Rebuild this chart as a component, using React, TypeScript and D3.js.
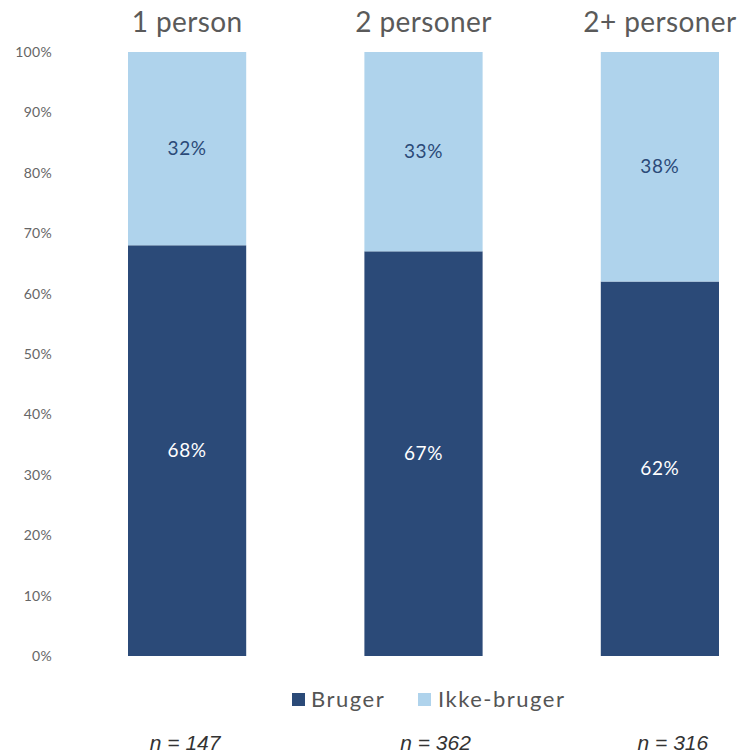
import React from "react";
import * as d3 from "d3";

const categories = ["1 person", "2 personer", "2+ personer"];
const brugerValues = [68, 67, 62];
const ikkeBrugerValues = [32, 33, 38];
const nLabels = ["n = 147", "n = 362", "n = 316"];
const yTicks = [0, 10, 20, 30, 40, 50, 60, 70, 80, 90, 100];
const seriesNames = ["Bruger", "Ikke-bruger"];

const W = 740;
const H = 753;
const DARK = "#2b4a78";
const LIGHT = "#afd3ec";

export default function App() {
  const x = d3.scaleBand<string>().domain(categories).range([128, 719]).paddingInner(0.5).paddingOuter(0);
  const y = d3.scaleLinear().domain([0, 100]).range([656, 52]);
  const nOffsets = [-2, 12, 13];

  return (
    <svg width={W} height={H} style={{ position: "absolute", left: 0, top: 0, background: "#fff" }}>
      {yTicks.map((t) => (
        <text key={t} x={52} y={y(t)} dy="0.35em" textAnchor="end" fontFamily="Lato, sans-serif" fontSize={14} letterSpacing={0.3} fill="#666">
          {t}%
        </text>
      ))}
      {categories.map((c, i) => {
        const x0 = x(c)!;
        const bw = x.bandwidth();
        const b = brugerValues[i];
        const ik = ikkeBrugerValues[i];
        return (
          <g key={c}>
            <text x={x0 + bw / 2} y={32} textAnchor="middle" fontFamily="Lato, sans-serif" fontSize={28} letterSpacing={0.4} fill="#5a5a5a">
              {c}
            </text>
            <rect x={x0} y={y(b)} width={bw} height={y(0) - y(b)} fill={DARK} />
            <rect x={x0} y={y(b + ik)} width={bw} height={y(b) - y(b + ik)} fill={LIGHT} />
            <text x={x0 + bw / 2} y={y(b / 2)} dy="0.35em" textAnchor="middle" fontFamily="Lato, sans-serif" fontSize={19} letterSpacing={0.6} fill="#fff">
              {b}%
            </text>
            <text x={x0 + bw / 2} y={y(b + ik / 2)} dy="0.35em" textAnchor="middle" fontFamily="Lato, sans-serif" fontSize={19} letterSpacing={0.6} fill={DARK}>
              {ik}%
            </text>
            <text x={x0 + bw / 2 + nOffsets[i]} y={750} textAnchor="middle" fontFamily="'Liberation Sans', Arial, sans-serif" fontStyle="italic" fontSize={21} fill="#333">
              {nLabels[i]}
            </text>
          </g>
        );
      })}
      <g>
        <rect x={292} y={693} width={13} height={13} fill={DARK} />
        <text x={311} y={707} fontFamily="Lato, sans-serif" fontSize={22} letterSpacing={1.5} fill="#555">
          {seriesNames[0]}
        </text>
        <rect x={418} y={693} width={13} height={13} fill={LIGHT} />
        <text x={438} y={707} fontFamily="Lato, sans-serif" fontSize={22} letterSpacing={1.5} fill="#555">
          {seriesNames[1]}
        </text>
      </g>
    </svg>
  );
}
